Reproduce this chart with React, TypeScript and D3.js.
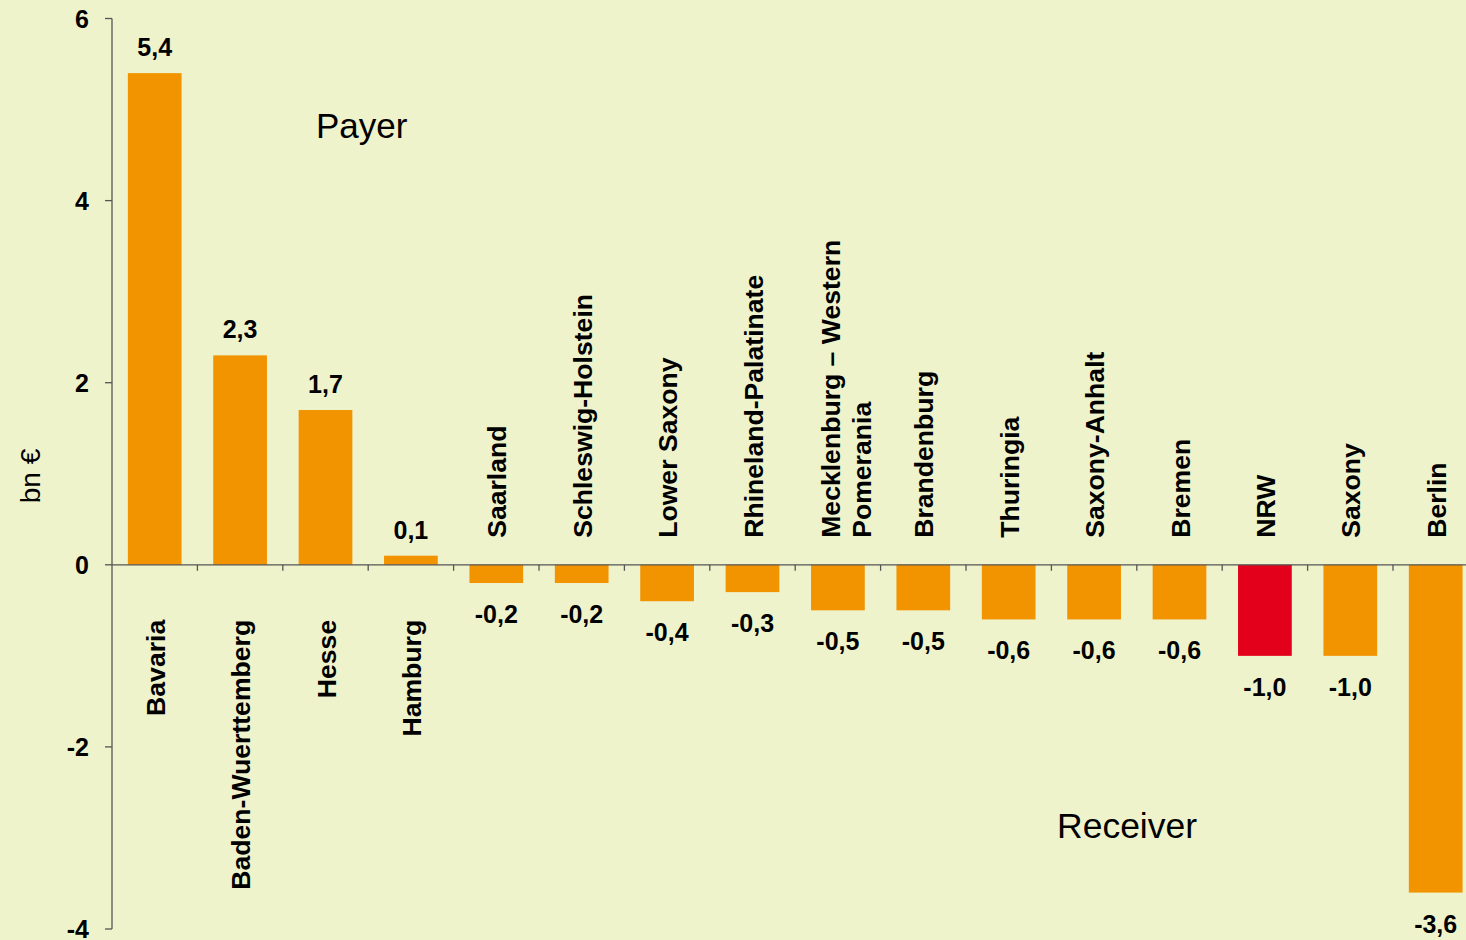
import React from "react";
import * as d3 from "d3";

const categories: string[] = [
  "Bavaria",
  "Baden-Wuerttemberg",
  "Hesse",
  "Hamburg",
  "Saarland",
  "Schleswig-Holstein",
  "Lower Saxony",
  "Rhineland-Palatinate",
  "Mecklenburg – Western\nPomerania",
  "Brandenburg",
  "Thuringia",
  "Saxony-Anhalt",
  "Bremen",
  "NRW",
  "Saxony",
  "Berlin",
];

const values: number[] = [5.4, 2.3, 1.7, 0.1, -0.2, -0.2, -0.4, -0.3, -0.5, -0.5, -0.6, -0.6, -0.6, -1.0, -1.0, -3.6];

const highlighted: string[] = ["NRW"];

const yTicks: number[] = [-4, -2, 0, 2, 4, 6];

const W = 1466;
const H = 940;
const BG = "#EFF3CC";
const ORANGE = "#F29400";
const RED = "#E2001A";
const AXIS = "#555555";
const FONT = "'Liberation Sans', Arial, Helvetica, sans-serif";

const fmt = (v: number) => v.toFixed(1).replace(".", ",");

export default function App() {
  const y = d3.scaleLinear().domain([-4, 6]).range([929, 18.5]);
  const x = d3
    .scaleBand<string>()
    .domain(categories)
    .range([112, 112 + 16 * 85.4])
    .paddingInner(0.371)
    .paddingOuter(0.1855);
  const step = x.step();
  const bw = x.bandwidth();
  const x0 = 112;
  const y0 = y(0);

  return (
    <svg
      width={W}
      height={H}
      style={{ position: "absolute", left: 0, top: 0, display: "block" }}
      fontFamily={FONT}
    >
      <rect x={0} y={0} width={W} height={H} fill={BG} />

      {/* bars */}
      {categories.map((c, i) => {
        const v = values[i];
        const top = Math.min(y(v), y0);
        const h = Math.abs(y(v) - y0);
        return (
          <rect
            key={c}
            x={x(c)!}
            y={top}
            width={bw}
            height={h}
            fill={highlighted.includes(c) ? RED : ORANGE}
          />
        );
      })}

      {/* y axis */}
      <line x1={x0} x2={x0} y1={y(6)} y2={y(-4)} stroke={AXIS} strokeWidth={1.3} />
      {yTicks.map((t) => (
        <g key={t}>
          <line x1={x0 - 7} x2={x0} y1={y(t)} y2={y(t)} stroke={AXIS} strokeWidth={1.3} />
          <text
            x={89}
            y={y(t) + 9}
            textAnchor="end"
            fontSize={25}
            fontWeight="bold"
            fill="#000"
          >
            {t}
          </text>
        </g>
      ))}

      {/* x axis at zero */}
      <line x1={x0} x2={W} y1={y0} y2={y0} stroke={AXIS} strokeWidth={1.3} />
      {categories.map((c, i) =>
        i === 0 ? null : (
          <line
            key={"t" + c}
            x1={x0 + i * step}
            x2={x0 + i * step}
            y1={y0}
            y2={y0 + 6}
            stroke={AXIS}
            strokeWidth={1.3}
          />
        )
      )}

      {/* value labels */}
      {categories.map((c, i) => {
        const v = values[i];
        const cx = x(c)! + bw / 2;
        const ly = v >= 0 ? y(v) - 17 : y(v) + 40;
        return (
          <text
            key={"v" + c}
            x={cx}
            y={ly}
            textAnchor="middle"
            fontSize={25}
            fontWeight="bold"
            fill="#000"
          >
            {fmt(v)}
          </text>
        );
      })}

      {/* category labels */}
      {categories.map((c, i) => {
        const v = values[i];
        const cx = x(c)! + bw / 2;
        const lines = c.split("\n");
        const n = lines.length;
        const ay = v >= 0 ? y0 + 55 : y0 - 27;
        const anchor = v >= 0 ? "end" : "start";
        return (
          <g key={"c" + c}>
            {lines.map((ln, k) => {
              const bx = cx + 10 - (n - 1) * 8 + k * 31;
              return (
                <text
                  key={k}
                  transform={`translate(${bx},${ay}) rotate(-90)`}
                  textAnchor={anchor}
                  fontSize={26.6}
                  fontWeight="bold"
                  fill="#000"
                >
                  {ln}
                </text>
              );
            })}
          </g>
        );
      })}

      {/* annotations */}
      <text x={316} y={138} fontSize={35} fill="#000">
        Payer
      </text>
      <text x={1057} y={838} fontSize={35.5} fill="#000">
        Receiver
      </text>
      <text
        transform={`translate(40,476) rotate(-90)`}
        textAnchor="middle"
        fontSize={28}
        fill="#000"
      >
        bn €
      </text>
    </svg>
  );
}
